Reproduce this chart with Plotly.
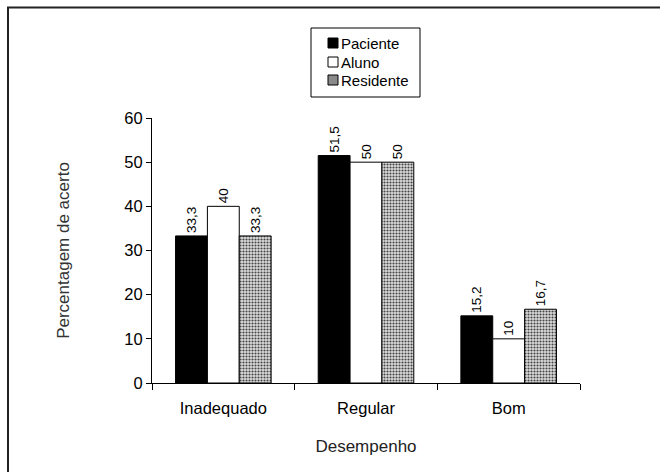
import plotly.graph_objects as go

categories = ["Inadequado", "Regular", "Bom"]
paciente = [33.3, 51.5, 15.2]
aluno = [40, 50, 10]
residente = [33.3, 50, 16.7]
series_names = ["Paciente", "Aluno", "Residente"]

FONT = "Liberation Sans, Arial, sans-serif"

# plot-area geometry in pixels (for paper coord conversion)
L, R, T, B = 152, 580, 118, 383
def px(x):
    return (x - L) / (R - L)
def py(y):
    return (B - y) / (B - T)

pattern = dict(shape=".", size=3, solidity=0.4,
               fgcolor="#444444", bgcolor="#dcdcdc", fillmode="replace")
styles = [
    dict(color="black", line=dict(color="black", width=1)),
    dict(color="white", line=dict(color="black", width=1)),
    dict(color="white", line=dict(color="black", width=1), pattern=pattern),
]

fig = go.Figure()
for name, vals, mk in zip(series_names, [paciente, aluno, residente], styles):
    fig.add_trace(go.Bar(
        name=name, x=categories, y=vals, marker=mk,
        texttemplate="%{y}", textposition="outside", textangle=-90,
        textfont=dict(size=13.5, color="black", family=FONT), cliponaxis=False,
        showlegend=False, hoverinfo="skip",
    ))

fig.update_layout(
    width=660, height=472,
    margin=dict(l=L, r=660 - R, t=T, b=472 - B, autoexpand=False),
    paper_bgcolor="white", plot_bgcolor="white",
    barmode="group", bargap=0.33, bargroupgap=0,
    separators=",.",
    font=dict(family=FONT, size=15, color="black"),
    showlegend=False,
)
fig.update_xaxes(
    showline=True, linecolor="black", linewidth=1,
    ticks="outside", tickson="boundaries", ticklen=6, tickcolor="black",
    showgrid=False, ticklabelstandoff=10,
    tickfont=dict(size=16.5, family=FONT, color="black"),
    title=dict(text="Desempenho", font=dict(size=17, family=FONT, color="#222222"), standoff=24),
)
fig.update_yaxes(
    range=[0, 60], dtick=10,
    showline=True, linecolor="black", linewidth=1,
    ticks="outside", ticklen=5, tickcolor="black",
    showgrid=False, zeroline=False,
    tickfont=dict(size=16.5, family=FONT, color="black"),
    title=dict(text="Percentagem de acerto", font=dict(size=17, family=FONT, color="#333333"), standoff=50),
)

# outer frame
fig.add_shape(type="rect", xref="paper", yref="paper",
              x0=px(8), x1=2, y0=-1, y1=py(7.5),
              line=dict(color="#222222", width=2), fillcolor="rgba(0,0,0,0)", layer="below")

# custom legend box
fig.add_shape(type="rect", xref="paper", yref="paper",
              x0=px(311), x1=px(420), y0=py(97), y1=py(28),
              line=dict(color="black", width=1), fillcolor="white", layer="above")
row_y = [43, 62, 80]
fills = ["black", "white", "#8a8a8a"]
for i, name in enumerate(series_names):
    cy = row_y[i]
    fig.add_shape(type="rect", xref="paper", yref="paper",
                  x0=px(328), x1=px(338), y0=py(cy + 5), y1=py(cy - 5),
                  line=dict(color="black", width=1), fillcolor=fills[i], layer="above")
    fig.add_annotation(xref="paper", yref="paper", x=px(339), y=py(cy),
                       xanchor="left", yanchor="middle", showarrow=False,
                       text=name, font=dict(size=15, family=FONT, color="black"))

fig.write_html("out.html", config={"displayModeBar": False, "staticPlot": True},
               post_script="document.body.style.margin='0px';document.body.style.overflow='hidden';")
